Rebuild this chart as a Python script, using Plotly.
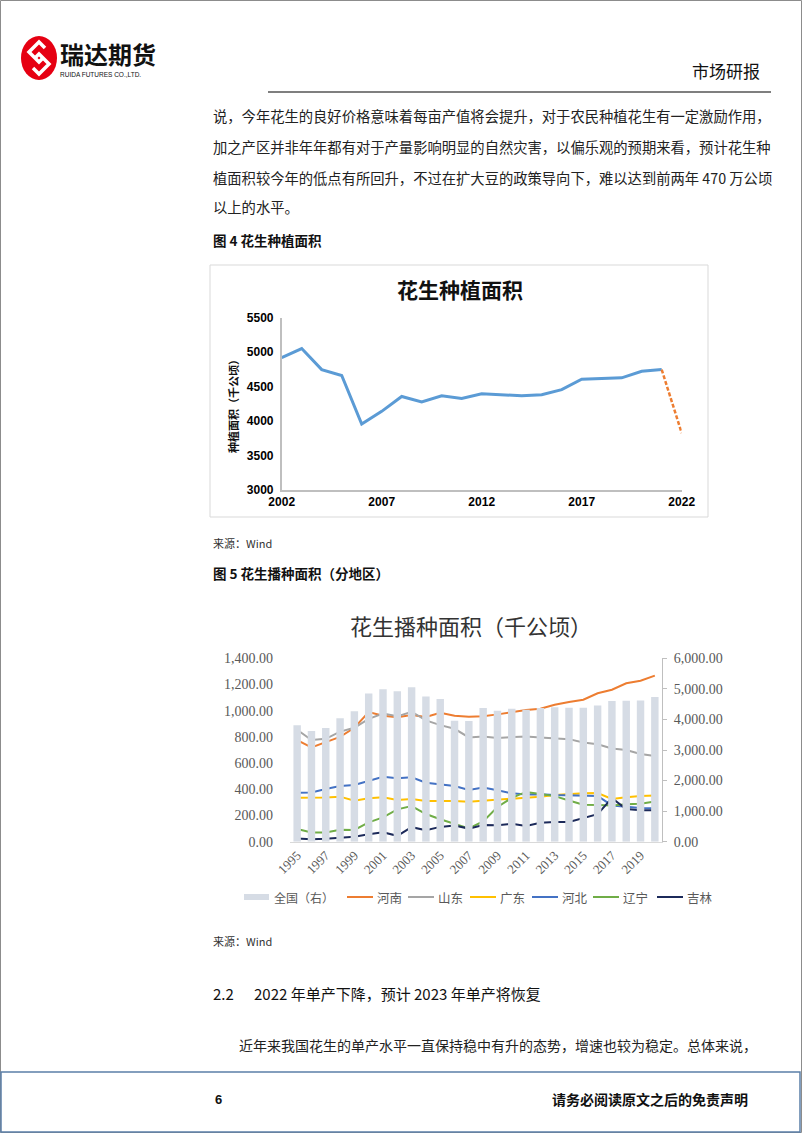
import plotly.graph_objects as go

W, H = 802, 1133


def X(px):
    return px / W


def Y(py):
    return 1 - py / H


# ---------------- Chart 1 data: 花生种植面积 ----------------
years1 = list(range(2002, 2022))
area1 = [4920, 5050, 4745, 4660, 3955, 4140, 4355, 4275, 4365, 4325,
         4395, 4385, 4365, 4380, 4455, 4605, 4612, 4625, 4720, 4745]
fc_years = [2021, 2022]
fc_vals = [4745, 3825]
ticks1_x = [2002, 2007, 2012, 2017, 2022]
ticks1_y = [3000, 3500, 4000, 4500, 5000, 5500]

# ---------------- Chart 2 data: 花生播种面积（分地区） ----------------
years2 = [str(y) for y in range(1995, 2021)]
national = [3810, 3620, 3720, 4035, 4270, 4850, 4990, 4925, 5055, 4750,
            4665, 3960, 3945, 4370, 4285, 4350, 4320, 4370, 4400, 4380,
            4380, 4455, 4600, 4610, 4622, 4730]
henan = [775, 720, 760, 800, 870, 990, 962, 950, 967, 952,
         985, 961, 953, 957, 972, 987, 1006, 1015, 1045, 1067,
         1084, 1133, 1160, 1209, 1229, 1268]
shandong = [855, 776, 785, 840, 870, 938, 978, 957, 992, 926,
            890, 862, 796, 803, 792, 800, 804, 796, 789, 783,
            758, 744, 712, 700, 670, 654]
guangdong = [336, 336, 338, 344, 313, 331, 340, 318, 326, 311,
             311, 311, 305, 312, 320, 328, 336, 344, 356, 364,
             370, 372, 326, 339, 349, 353]
hebei = [374, 376, 402, 425, 433, 466, 496, 484, 492, 450,
         440, 425, 395, 413, 392, 369, 360, 362, 356, 353,
         349, 349, 277, 265, 258, 255]
liaoning = [97, 70, 71, 92, 90, 148, 186, 247, 272, 211,
            171, 135, 102, 155, 265, 335, 380, 365, 348, 315,
            282, 280, 276, 286, 290, 307]
jilin = [24, 18, 23, 31, 38, 56, 72, 45, 111, 88,
         113, 123, 100, 127, 126, 136, 120, 145, 151, 150,
         178, 210, 333, 250, 241, 241]
ticks2_x = [str(y) for y in range(1995, 2021, 2)]
ticks2_left = [0, 200, 400, 600, 800, 1000, 1200, 1400]
ticks2_right = [0, 1000, 2000, 3000, 4000, 5000, 6000]

national_name = "全国（右）"
national_color = "#D6DCE5"
series2 = [
    ("河南", henan, "#ED7D31"),
    ("山东", shandong, "#A5A5A5"),
    ("广东", guangdong, "#FFC000"),
    ("河北", hebei, "#4472C4"),
    ("辽宁", liaoning, "#70AD47"),
    ("吉林", jilin, "#1C2A5A"),
]

CJK = "Noto Sans CJK SC"
SERIF = "Liberation Serif"

fig = go.Figure()

# chart 1 traces
fig.add_trace(go.Scatter(x=years1, y=area1, mode="lines", xaxis="x", yaxis="y",
                         line=dict(color="#5B9BD5", width=3), showlegend=False,
                         hoverinfo="skip"))
fig.add_trace(go.Scatter(x=fc_years, y=fc_vals, mode="lines", xaxis="x", yaxis="y",
                         line=dict(color="#ED7D31", width=2.5, dash="4px,2px"),
                         showlegend=False, hoverinfo="skip"))

# chart 2 traces
fig.add_trace(go.Bar(x=years2, y=national, name=national_name, xaxis="x2", yaxis="y3",
                     marker=dict(color=national_color, line=dict(width=0)),
                     showlegend=False))
for name, vals, col in series2:
    fig.add_trace(go.Scatter(x=years2, y=vals, name=name, mode="lines",
                             xaxis="x2", yaxis="y2", showlegend=False,
                             line=dict(color=col, width=2)))

fig.update_layout(
    width=W, height=H,
    margin=dict(l=0, r=0, t=0, b=0, pad=0, autoexpand=False),
    paper_bgcolor="white", plot_bgcolor="white",
    bargap=0.48, showlegend=False,
    xaxis=dict(domain=[X(281.7), X(681.7)], range=[2002, 2022], anchor="y",
               tickvals=ticks1_x, showgrid=False, zeroline=False, automargin=False,
               showline=True, linecolor="#BFBFBF", linewidth=1.5, ticks="",
               tickfont=dict(family="Liberation Sans", size=12, color="#000", weight="bold")),
    yaxis=dict(domain=[Y(490), Y(317.5)], range=[3000, 5500], anchor="x",
               tickvals=ticks1_y, showgrid=False, zeroline=False, automargin=False,
               showline=True, linecolor="#BFBFBF", linewidth=1.5, ticks="",
               ticklabelstandoff=4,
               tickfont=dict(family="Liberation Sans", size=12, color="#000", weight="bold")),
    xaxis2=dict(domain=[X(290), X(662)], anchor="y2", type="category",
                tickvals=ticks2_x, tickangle=-45, showgrid=False, zeroline=False,
                automargin=False,
                showline=True, linecolor="#D9D9D9", linewidth=1, ticks="",
                tickfont=dict(family=SERIF, size=13, color="#595959")),
    yaxis2=dict(domain=[Y(841.7), Y(658.3)], range=[0, 1400], anchor="x2",
                tickvals=ticks2_left, tickformat=",.2f", showgrid=False, automargin=False,
                zeroline=False, showline=False, ticks="", ticklabelstandoff=16,
                tickfont=dict(family=SERIF, size=14, color="#595959")),
    yaxis3=dict(range=[0, 6000], overlaying="y2", side="right", anchor="x2",
                tickvals=ticks2_right, tickformat=",.2f", showgrid=False, automargin=False,
                zeroline=False, showline=True, linecolor="#BFBFBF", linewidth=1,
                ticks="outside", ticklen=4, tickcolor="#BFBFBF", ticklabelstandoff=4,
                tickfont=dict(family=SERIF, size=14, color="#595959")),
)

annotations = []


def text(x, y, s, size=14, color="#222", family=CJK, anchor="left", angle=0):
    annotations.append(dict(x=X(x), y=Y(y), xref="paper", yref="paper", text=s,
                            showarrow=False, xanchor=anchor, yanchor="middle",
                            textangle=angle,
                            font=dict(family=family, size=size, color=color)))


shapes = []


def pline(x0, y0, x1, y1, color, width):
    shapes.append(dict(type="line", xref="paper", yref="paper",
                       x0=X(x0), y0=Y(y0), x1=X(x1), y1=Y(y1),
                       line=dict(color=color, width=width)))


def ppath(pts, color, width):
    d = "M" + " L".join(f"{X(a):.5f},{Y(b):.5f}" for a, b in pts)
    shapes.append(dict(type="path", xref="paper", yref="paper", path=d,
                       line=dict(color=color, width=width)))


# header
text(58, 54, "<b>瑞达期货</b>", size=24, color="#111")
text(58, 74, "RUIDA FUTURES CO.,LTD.", size=6.5, color="#111", family="Liberation Sans")
text(762, 70, "市场研报", size=17, color="#111", anchor="right")

# body text
body = [
    (211, 115, "说，今年花生的良好价格意味着每亩产值将会提升，对于农民种植花生有一定激励作用，"),
    (211, 146, "加之产区并非年年都有对于产量影响明显的自然灾害，以偏乐观的预期来看，预计花生种"),
    (211, 177, "植面积较今年的低点有所回升，不过在扩大豆的政策导向下，难以达到前两年 470 万公顷"),
    (211, 207, "以上的水平。"),
]
for bx, by, s in body:
    text(bx, by, s, size=14.3, color="#222")

text(211, 240, "<b>图 4 花生种植面积</b>", size=13.5, color="#111")
text(460, 289, "<b>花生种植面积</b>", size=21, color="#111", anchor="center")
text(233, 404, "<b>种植面积（千公顷）</b>", size=11, color="#111", anchor="center", angle=-90)
text(211, 543, "来源：Wind", size=11, color="#333")
text(211, 573, "<b>图 5 花生播种面积（分地区）</b>", size=13.5, color="#111")
text(471, 625, "花生播种面积（千公顷）", size=22, color="#333", anchor="center")
text(211, 941, "来源：Wind", size=11, color="#333")
text(211, 993, "2.2", size=15, color="#111")
text(252, 993, "2022 年单产下降，预计 2023 年单产将恢复", size=15, color="#111")
text(237, 1045, "近年来我国花生的单产水平一直保持稳中有升的态势，增速也较为稳定。总体来说，",
     size=14, color="#222")
text(213, 1099, "<b>6</b>", size=13, color="#111", family="Liberation Sans")
text(750, 1099, "<b>请务必阅读原文之后的免责声明</b>", size=14, color="#111", anchor="right")

# legend of chart 2 (symbol left edges in px)
leg_y = 897
leg_x = [244, 347, 408, 470, 532, 593, 657]
shapes.append(dict(type="rect", xref="paper", yref="paper",
                   x0=X(leg_x[0]), x1=X(leg_x[0] + 25), y0=Y(leg_y + 3), y1=Y(leg_y - 3),
                   fillcolor=national_color, line=dict(width=0)))
text(leg_x[0] + 28, leg_y, national_name, size=12, color="#595959")
for lx, (name, _, col) in zip(leg_x[1:], series2):
    pline(lx, leg_y, lx + 26, leg_y, col, 2)
    text(lx + 28, leg_y, name, size=12.5, color="#595959")

fig.update_layout(annotations=annotations)

# page border
shapes.append(dict(type="rect", xref="paper", yref="paper", x0=X(0.5), x1=X(801.5),
                   y0=Y(1132.5), y1=Y(0.5), line=dict(color="#8C8C8C", width=1)))
# logo
shapes.append(dict(type="circle", xref="paper", yref="paper", x0=X(21), x1=X(57),
                   y0=Y(80), y1=Y(36), fillcolor="#E60012", line=dict(width=0)))
ppath([(45, 48), (39, 42), (29, 52), (39, 62), (43, 58)], "white", 3.5)
ppath([(33, 68), (39, 74), (49, 64), (39, 54), (35, 58)], "white", 3.5)
# header rule
pline(268, 92, 771, 92, "#555555", 1.5)
# chart 1 frame
shapes.append(dict(type="rect", xref="paper", yref="paper", x0=X(210), x1=X(708),
                   y0=Y(517), y1=Y(265), line=dict(color="#D9D9D9", width=1)))
# footer box
shapes.append(dict(type="rect", xref="paper", yref="paper", x0=X(1), x1=X(800),
                   y0=Y(1132), y1=Y(1072), line=dict(color="#5B7FA8", width=1.5)))

fig.update_layout(shapes=shapes)

fig.write_html("out.html")
